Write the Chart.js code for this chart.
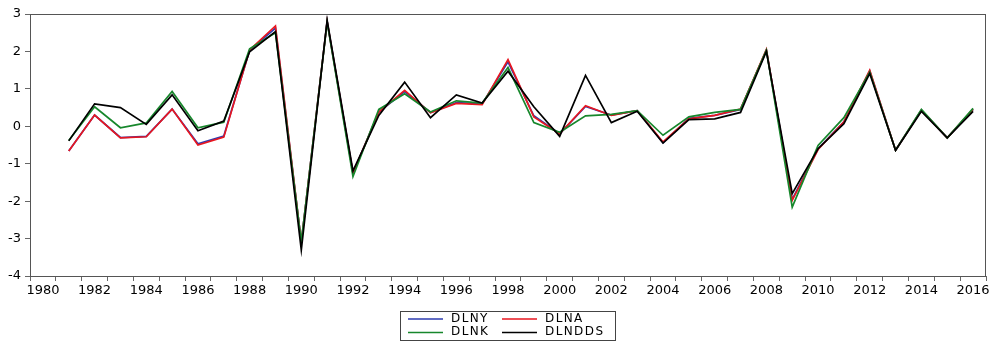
<!DOCTYPE html>
<html>
<head>
<meta charset="utf-8">
<script src="https://cdn.jsdelivr.net/npm/chart.js"></script>
<style>
  html, body { margin: 0; padding: 0; background: #fff; }
  #wrap { position: relative; width: 992px; height: 341px; }
</style>
</head>
<body>
<div id="wrap"><canvas id="chart"></canvas></div>
<script>
// Years on the category axis (1980 has no value, series start in 1981)
const years = [];
for (let y = 1980; y <= 2016; y++) years.push(String(y));

const yTicks = [-4, -3, -2, -1, 0, 1, 2, 3];

const dlny = [null, -0.66, 0.30, -0.30, -0.27, 0.46, -0.47, -0.26, 2.03, 2.62, -3.10, 2.80, -1.25, 0.38, 0.93, 0.37, 0.63, 0.60, 1.72, 0.28, -0.20, 0.53, 0.30, 0.42, -0.44, 0.21, 0.29, 0.45, 2.03, -1.95, -0.60, 0.12, 1.48, -0.64, 0.43, -0.31, 0.45];
const dlna = [null, -0.66, 0.30, -0.31, -0.28, 0.46, -0.50, -0.29, 2.04, 2.68, -3.10, 2.80, -1.25, 0.38, 0.96, 0.36, 0.61, 0.58, 1.78, 0.25, -0.20, 0.55, 0.29, 0.42, -0.42, 0.20, 0.29, 0.46, 2.05, -1.98, -0.62, 0.12, 1.50, -0.64, 0.43, -0.31, 0.46];
const dlnk = [null, -0.38, 0.52, -0.04, 0.09, 0.93, -0.04, 0.11, 2.07, 2.50, -3.09, 2.78, -1.34, 0.45, 0.87, 0.38, 0.68, 0.62, 1.57, 0.10, -0.16, 0.28, 0.32, 0.42, -0.24, 0.25, 0.37, 0.45, 2.03, -2.16, -0.51, 0.23, 1.45, -0.64, 0.45, -0.31, 0.48];
const dlndds = [null, -0.39, 0.60, 0.50, 0.05, 0.84, -0.12, 0.14, 1.99, 2.53, -3.31, 2.83, -1.19, 0.29, 1.18, 0.23, 0.84, 0.62, 1.47, 0.52, -0.27, 1.36, 0.10, 0.40, -0.45, 0.18, 0.20, 0.37, 2.00, -1.80, -0.60, 0.07, 1.41, -0.64, 0.40, -0.31, 0.40];

const AXIS = '#666';

function series(label, data, color, order) {
  return {
    label, data,
    borderColor: color,
    backgroundColor: color,
    borderWidth: 1.7,
    pointRadius: 0,
    tension: 0,
    spanGaps: false,
    order, // lower order is drawn on top
  };
}

// box around the plot (top and right sides)
const frame = {
  id: 'frame',
  afterDraw(chart) {
    const { ctx, chartArea: a } = chart;
    ctx.save();
    ctx.strokeStyle = '#555';
    ctx.lineWidth = 1;
    ctx.strokeRect(Math.round(a.left) + 0.5, Math.round(a.top) + 0.5,
      Math.round(a.right - a.left) - 1, Math.round(a.bottom - a.top));
    ctx.restore();
  }
};

// 2x2 boxed legend under the x axis
const boxLegend = {
  id: 'boxLegend',
  afterDraw(chart) {
    const ctx = chart.ctx;
    const sets = chart.data.datasets;
    const bx = 400, by = 311, bw = 215, bh = 29;
    ctx.save();
    ctx.strokeStyle = '#444';
    ctx.lineWidth = 1;
    ctx.strokeRect(bx + 0.5, by + 0.5, bw, bh);
    ctx.font = '12px "DejaVu Sans"';
    ctx.letterSpacing = '1.4px';
    ctx.fillStyle = '#000';
    ctx.textBaseline = 'middle';
    const cols = [408, 502];
    const rows = [318.5, 332];
    sets.forEach((ds, i) => {
      const x = cols[i % 2], y = rows[Math.floor(i / 2)];
      ctx.strokeStyle = ds.borderColor;
      ctx.lineWidth = 1.3;
      ctx.beginPath();
      ctx.moveTo(x, y + 0.5);
      ctx.lineTo(x + 35, y + 0.5);
      ctx.stroke();
      ctx.fillText(ds.label, x + 43, y);
    });
    ctx.restore();
  }
};

Chart.defaults.font.family = '"DejaVu Sans", "Liberation Sans", Arial, sans-serif';
Chart.defaults.font.size = 13;
Chart.defaults.color = '#000';

new Chart(document.getElementById('chart'), {
  type: 'line',
  data: {
    labels: years,
    datasets: [
      series('DLNY', dlny, '#2e3cb0', 4),
      series('DLNA', dlna, '#e8161f', 3),
      series('DLNK', dlnk, '#17872c', 2),
      series('DLNDDS', dlndds, '#000000', 1),
    ],
  },
  options: {
    responsive: true,
    maintainAspectRatio: false,
    animation: false,
    layout: { padding: { top: 14, right: 6, left: 0, bottom: 35 } },
    plugins: {
      legend: { display: false },
      tooltip: { enabled: false },
    },
    scales: {
      x: {
        type: 'category',
        offset: true,
        grid: { offset: true, drawOnChartArea: false, drawTicks: true, tickLength: 5, color: AXIS },
        border: { color: AXIS },
        ticks: {
          autoSkip: false,
          maxRotation: 0,
          padding: 2,
          callback: (v, i) => (i % 2 === 0 ? years[i] : ''),
        },
        afterFit: s => { s.height = 30; },
      },
      y: {
        min: yTicks[0],
        max: yTicks[yTicks.length - 1],
        afterBuildTicks: s => { s.ticks = yTicks.map(v => ({ value: v })); },
        grid: { drawOnChartArea: false, drawTicks: true, tickLength: 5, color: AXIS },
        border: { color: AXIS },
        ticks: { padding: 4 },
        afterFit: s => { s.width = 30; },
      },
    },
  },
  plugins: [frame, boxLegend],
});
</script>
</body>
</html>
